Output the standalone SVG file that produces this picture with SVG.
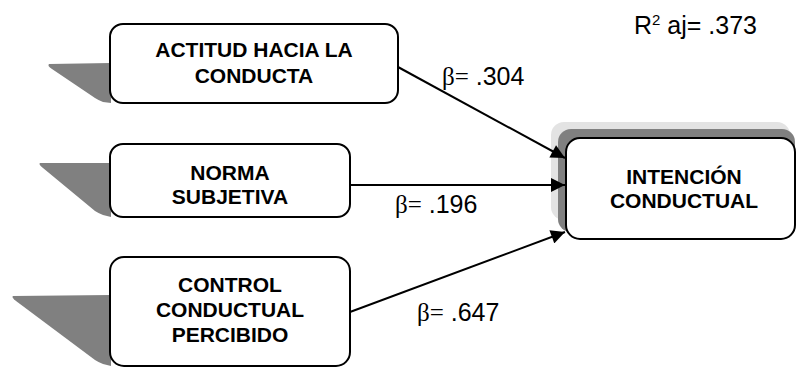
<svg xmlns="http://www.w3.org/2000/svg" width="797" height="367" viewBox="0 0 797 367">
<defs>
<style>
.box{fill:#fff;stroke:#000;stroke-width:2}
.shadow{fill:#808080}
.lbl{font-family:"Liberation Sans",Arial,sans-serif;font-weight:bold;font-size:21px;text-anchor:middle;fill:#000}
.val{font-family:"Liberation Sans",Arial,sans-serif;font-size:25px;fill:#000}
.sym{font-family:"Liberation Serif","Times New Roman",serif}
.conn{stroke:#000;stroke-width:2;fill:none}
</style>
<marker id="arr" viewBox="0 0 10 10" refX="10" refY="5" markerWidth="15" markerHeight="14" markerUnits="userSpaceOnUse" orient="auto">
<path d="M0,0 L10,5 L0,10 Z" fill="#000"/>
</marker>
</defs>
<rect width="797" height="367" fill="#fff"/>

<g id="n1">
<path class="shadow" d="M49,64 L111,63 L111,103 L103,102 Q98,100 95,98 L52,69 Q47,66 49,64 Z"/>
<rect class="box" x="110" y="24" width="288" height="79" rx="13"/>
<text class="lbl" x="254" y="57">ACTITUD HACIA LA</text>
<text class="lbl" x="254" y="83">CONDUCTA</text>
</g>

<g id="n2">
<path class="shadow" d="M40,163 L111,163 L111,217 L103,215 Q98,213 95,211 L43,168 Q38,164 40,163 Z"/>
<rect class="box" x="110" y="144" width="240" height="73" rx="13"/>
<text class="lbl" x="230" y="180">NORMA</text>
<text class="lbl" x="230" y="204">SUBJETIVA</text>
</g>

<g id="n3">
<path class="shadow" d="M13,296 L111,295 L111,366 L103,364 Q98,362 95,360 L16,301 Q11,297 13,296 Z"/>
<rect class="box" x="110" y="257" width="240" height="109" rx="14"/>
<text class="lbl" x="230" y="292">CONTROL</text>
<text class="lbl" x="230" y="317">CONDUCTUAL</text>
<text class="lbl" x="230" y="342">PERCIBIDO</text>
</g>

<g id="n4">
<rect x="551" y="122" width="239" height="98" rx="13" fill="#e3e3e3"/>
<rect x="558" y="129" width="237" height="103" rx="13" fill="#808080"/>
<rect class="box" x="566" y="138" width="229" height="101" rx="14"/>
<text class="lbl" x="684" y="184">INTENCIÓN</text>
<text class="lbl" x="684" y="208">CONDUCTUAL</text>
</g>

<g id="connectors">
<line class="conn" x1="398" y1="67" x2="565" y2="158" marker-end="url(#arr)"/>
<line class="conn" x1="350" y1="185" x2="565" y2="185" marker-end="url(#arr)"/>
<line class="conn" x1="350" y1="312" x2="565" y2="232" marker-end="url(#arr)"/>
</g>

<g id="labels">
<text class="val" x="442" y="85"><tspan class="sym">β=</tspan> .304</text>
<text class="val" x="395" y="213"><tspan class="sym">β=</tspan> .196</text>
<text class="val" x="417" y="321"><tspan class="sym">β=</tspan> .647</text>
<text class="val" x="634" y="34">R<tspan font-size="15" dy="-9">2</tspan><tspan dy="9"> aj= .373</tspan></text>
</g>
</svg>
